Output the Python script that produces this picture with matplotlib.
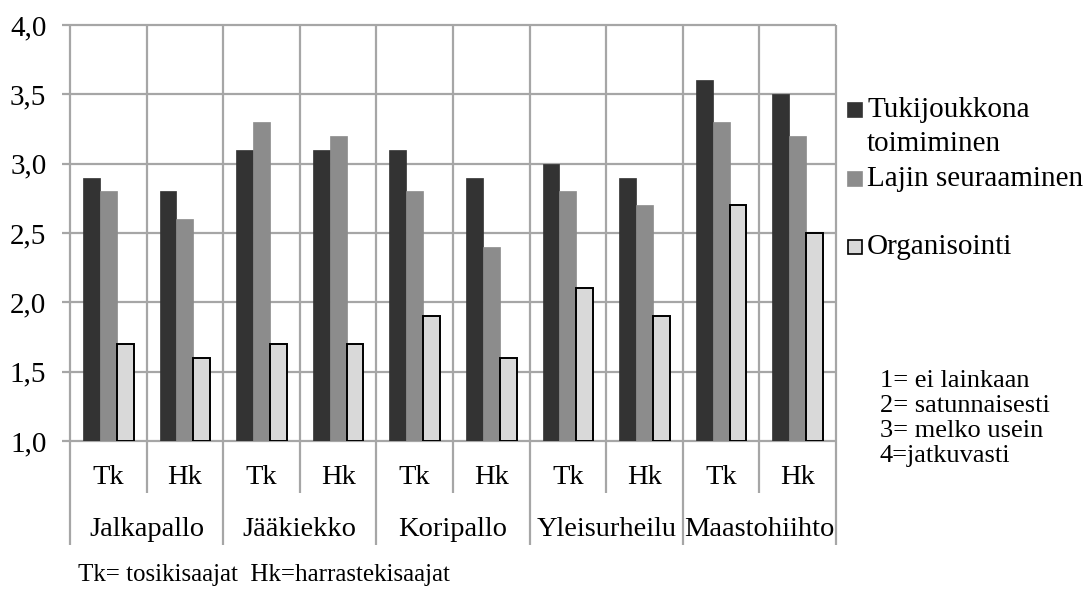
import numpy as np
import matplotlib
matplotlib.use("Agg")
import matplotlib.pyplot as plt
from matplotlib.patches import Rectangle

plt.rcParams["font.family"] = ["Liberation Serif", "DejaVu Serif"]

# ----- data -----
sports = ["Jalkapallo", "Jääkiekko", "Koripallo", "Yleisurheilu", "Maastohiihto"]
groups = ["Tk", "Hk"]
series = ["Tukijoukkona\ntoimiminen", "Lajin seuraaminen", "Organisointi"]
tukijoukko = [2.9, 2.8, 3.1, 3.1, 3.1, 2.9, 3.0, 2.9, 3.6, 3.5]
seuraaminen = [2.8, 2.6, 3.3, 3.2, 2.8, 2.4, 2.8, 2.7, 3.3, 3.2]
organisointi = [1.7, 1.6, 1.7, 1.7, 1.9, 1.6, 2.1, 1.9, 2.7, 2.5]
yticks = [1.0, 1.5, 2.0, 2.5, 3.0, 3.5, 4.0]
scale_notes = ["1= ei lainkaan", "2= satunnaisesti", "3= melko usein", "4=jatkuvasti"]
footnote = "Tk= tosikisaajat  Hk=harrastekisaajat"

colors = ["#333333", "#8c8c8c", "#d9d9d9"]
FS = 20.5

W, H = 1085, 592
fig = plt.figure(figsize=(W / 100, H / 100), dpi=100)
ax = fig.add_axes([70 / W, 1 - 441 / H, (836 - 70) / W, (441 - 25) / H])

n = len(tukijoukko)
x = np.arange(n) + 0.5
w = 0.22
vals = [tukijoukko, seuraaminen, organisointi]
for k, (v, c) in enumerate(zip(vals, colors)):
    h = np.array(v) - 1.0
    if k == 2:
        ax.bar(x + (k - 1) * w, h, w, bottom=1.0, color=c, edgecolor="black",
               linewidth=1.4, zorder=3)
    else:
        ax.bar(x + (k - 1) * w, h, w, bottom=1.0, color=c, edgecolor=c,
               linewidth=0.5, zorder=3)

ax.set_xlim(0, n)
ax.set_ylim(1.0, 4.0)
for s in ax.spines.values():
    s.set_visible(False)
ax.set_xticks([])
ax.set_yticks(yticks)
ax.set_yticklabels([f"{t:.1f}".replace(".", ",") for t in yticks], fontsize=21)
ax.tick_params(axis="y", length=0, pad=17)

grid = "#a6a6a6"
# horizontal grid lines, slightly past the left edge
ax.hlines(yticks, -0.11, n, color=grid, lw=1.6, zorder=1, clip_on=False)
# vertical separators, longer between sports
for b in range(n + 1):
    low = 0.25 if b % 2 == 0 else 0.625
    ax.vlines(b, low, 4.0, color=grid, lw=1.6, zorder=1, clip_on=False)

# category labels
for i in range(n):
    ax.text(x[i], 0.74, groups[i % 2], ha="center", va="center", fontsize=FS,
            clip_on=False)
for j, sp in enumerate(sports):
    ax.text(2 * j + 1, 0.36, sp, ha="center", va="center", fontsize=FS,
            clip_on=False)

# legend (drawn by hand to keep the uneven spacing)
leg_y = [110, 179, 247]
for lab, c, yy in zip(series, colors, leg_y):
    fig.patches.append(Rectangle((848 / W, 1 - (yy + 7) / H), 14 / W, 14 / H,
                                 transform=fig.transFigure, facecolor=c,
                                 edgecolor="black" if c == colors[2] else c, lw=1.2))
    for li, t in enumerate(lab.split("\n")):
        fig.text(867 / W, 1 - (yy + li * 34) / H, t, fontsize=21, va="center")

for li, t in enumerate(scale_notes):
    fig.text(880 / W, 1 - (381 + li * 25) / H, t, fontsize=19, va="center")

fig.text(78 / W, 1 - 575 / H, footnote, fontsize=18, va="center")

fig.savefig("out.png", dpi=100)
